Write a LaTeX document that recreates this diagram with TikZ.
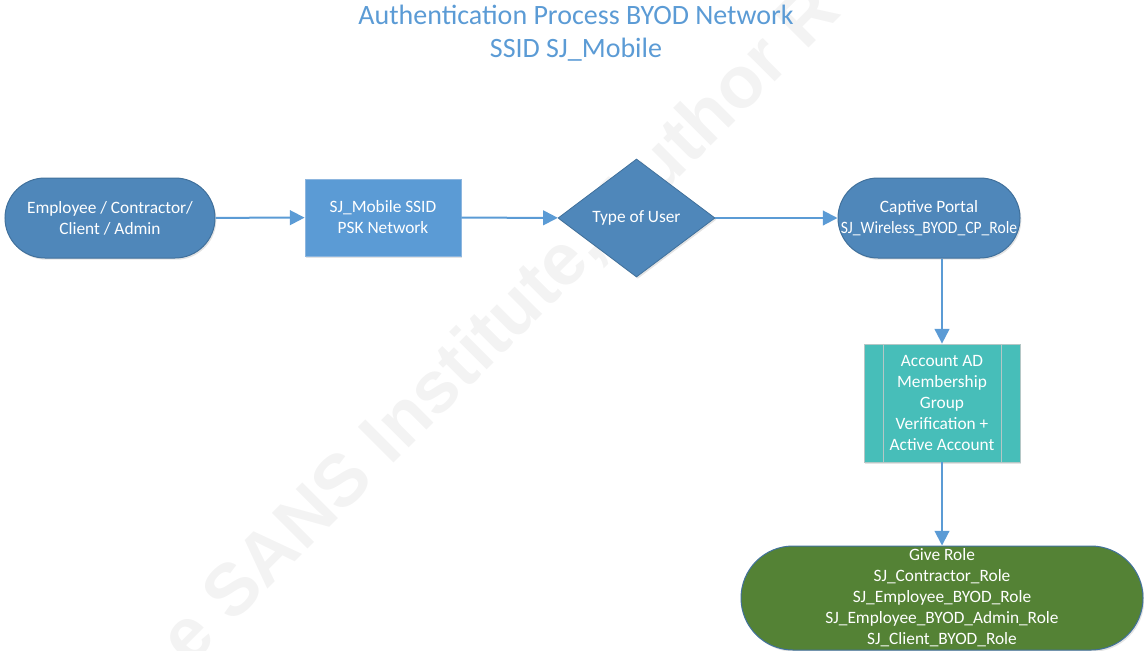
\documentclass[tikz,border=0pt]{standalone}
\usepackage{fontspec}
\setmainfont{Carlito}
\newfontfamily\markfont{Liberation Sans}
\usetikzlibrary{arrows.meta,shadows,shapes.geometric}

\definecolor{flowblue}{HTML}{4F87BA}
\definecolor{flowedge}{HTML}{41719C}
\definecolor{lightblue}{HTML}{5B9BD5}
\definecolor{ssidedge}{HTML}{8DB6DF}
\definecolor{procteal}{HTML}{47BEB9}
\definecolor{procedge}{HTML}{B4C7C6}
\definecolor{rolegreen}{HTML}{548235}
\definecolor{markgray}{HTML}{F3F3F3}

\begin{document}
\begin{tikzpicture}[x=0.75pt,y=-0.75pt,
  base/.style={inner sep=0pt, text=white, align=center,
    font=\fontsize{13pt}{15.75pt}\selectfont,
    drop shadow={shadow xshift=1pt, shadow yshift=-1.3pt, opacity=0.22}},
  terminal/.style={base, rectangle, rounded corners=30pt, fill=flowblue,
    draw=flowedge, line width=0.75pt, minimum width=157.5pt, minimum height=60pt},
  ssidbox/.style={base, rectangle, fill=lightblue, draw=ssidedge,
    line width=0.6pt, minimum width=117pt, minimum height=57.75pt},
  decision/.style={base, diamond, fill=flowblue, draw=flowedge,
    line width=0.6pt, minimum width=117.75pt, minimum height=88.5pt},
  predef/.style={base, rectangle, fill=procteal, draw=procedge,
    line width=0.6pt, minimum width=117pt, minimum height=88.5pt},
  roleend/.style={base, rectangle, rounded corners=39pt, fill=rolegreen,
    draw=flowedge, line width=0.75pt, minimum width=301.5pt, minimum height=78pt},
  sideline/.style={draw=procedge, line width=0.6pt},
  flow/.style={draw=lightblue, line width=1.5pt, -{Triangle[length=11pt,width=11pt]}}
]
\useasboundingbox (0,0) rectangle (1144,650);

% faint diagonal watermark behind everything
\node[rotate=45, anchor=base west, inner sep=0pt, text=markgray,
  font=\markfont\bfseries\fontsize{55pt}{60pt}\selectfont] (mark) at (189,668)
  {e SANS Institute, Author R};

% heading
\node[inner sep=0pt, align=center, text=lightblue,
  font=\fontsize{21pt}{24.75pt}\selectfont] (title) at (576,33)
  {Authentication Process BYOD Network\\SSID SJ\_Mobile};

% flow elements
\node[terminal] (user) at (110,218) {Employee / Contractor/\\Client / Admin};
\node[ssidbox] (ssid) at (383,217.5) {SJ\_Mobile SSID\\PSK Network};
\node[decision] (type) at (636.5,218) {Type of User};
\node[terminal, minimum width=136.5pt] (portal) at (929,218)
  {Captive Portal\\\scalebox{0.9}[1]{SJ\_Wireless\_BYOD\_CP\_Role}};
\node[predef] (verify) at (942,403)
  {Account AD\\Membership\\Group\\Verification +\\Active Account};
\draw[sideline] ([xshift=15pt]verify.north west) -- ([xshift=15pt]verify.south west);
\draw[sideline] ([xshift=-14.25pt]verify.north east) -- ([xshift=-14.25pt]verify.south east);
\node[roleend] (role) at (942,598)
  {Give Role\\SJ\_Contractor\_Role\\SJ\_Employee\_BYOD\_Role\\SJ\_Employee\_BYOD\_Admin\_Role\\SJ\_Client\_BYOD\_Role};

% connectors
\draw[flow] (user) -- (ssid);
\draw[flow] (ssid) -- (type);
\draw[flow] (type) -- (portal);
\draw[flow] (portal.south -| verify.north) -- (verify.north);
\draw[flow] (verify) -- (role);
\end{tikzpicture}
\end{document}
